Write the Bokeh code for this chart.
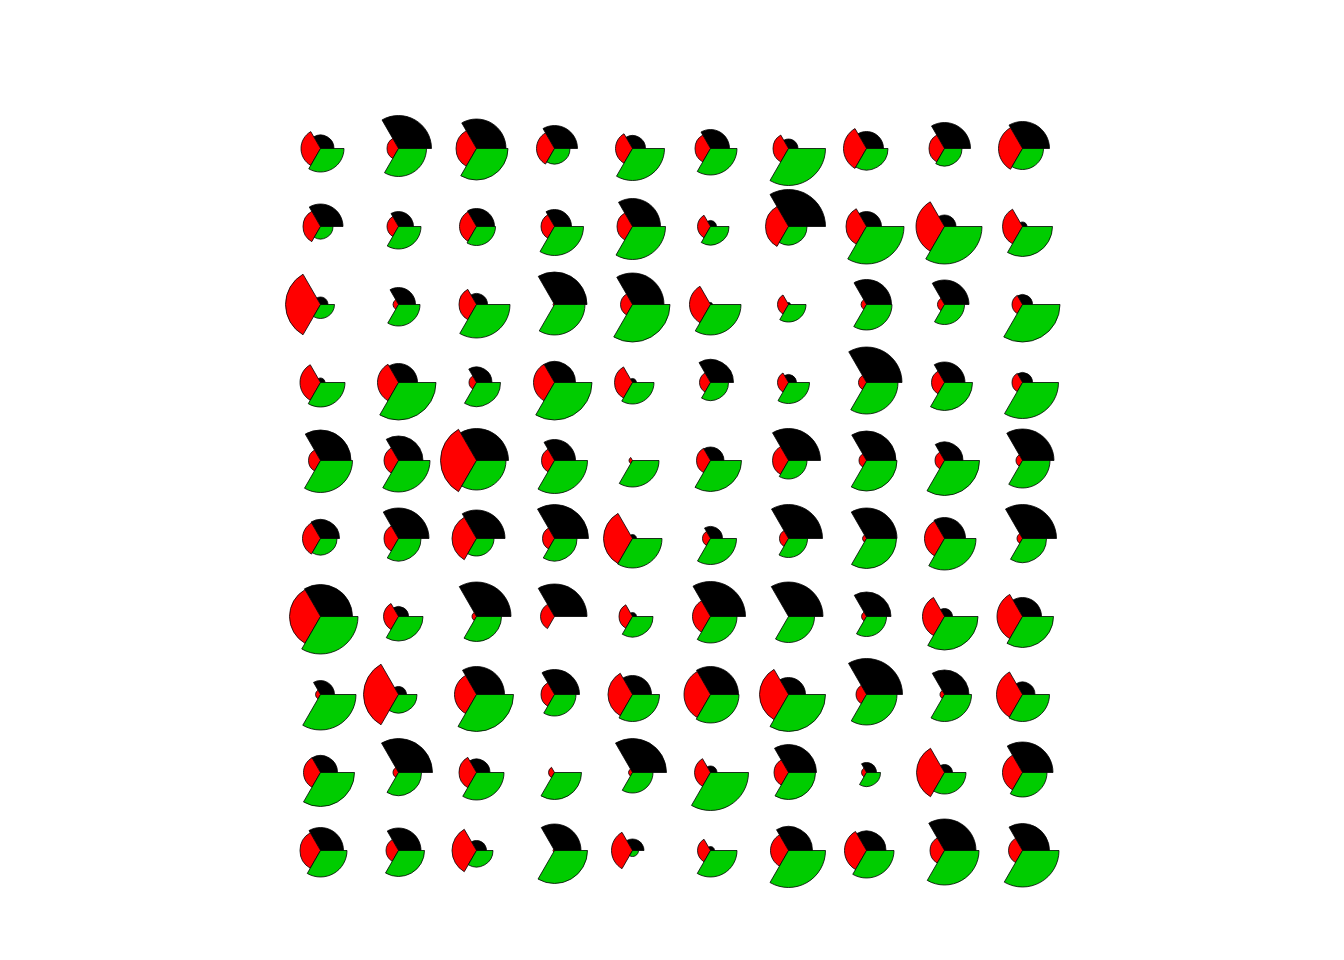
import math
from bokeh.plotting import figure
from bokeh.models import ColumnDataSource, Range1d
from bokeh.embed import file_html
from bokeh.resources import INLINE

# Grid: 10 columns x 10 rows (rows listed top to bottom)
n_cols = 10
n_rows = 10

# Wedge radii (pixels) per cell, rows from top to bottom
black_r = [
    [13.5, 33, 29.5, 23, 13, 19, 9.5, 17, 26, 27],
    [22.5, 15, 18, 17, 28, 6, 37, 15, 11.5, 4.5],
    [7.5, 17, 11, 32.5, 31.5, 2, 2, 25, 24.5, 10],
    [4.5, 19, 15.5, 21, 4, 23, 8, 35.5, 20.5, 10],
    [30.5, 24.5, 32, 21, 0, 13.5, 32, 29.5, 18.5, 31.5],
    [19, 30.5, 28.5, 34, 4, 12, 34, 30.5, 21, 34],
    [32, 10, 34.5, 32.5, 4, 35, 34.5, 24.5, 8, 19],
    [14, 8, 28, 25, 19, 28, 17, 36, 24.5, 12.5],
    [17, 34, 13.5, 0, 34, 6.5, 28, 10, 8, 30.5],
    [23, 22.5, 10, 26.5, 11.5, 4, 24, 19.5, 31.5, 27],
]
red_r = [
    [19.5, 11.5, 20.5, 18, 17, 15.5, 15.5, 23, 15.5, 24],
    [17.5, 11.5, 17, 13.5, 15.5, 13, 23, 20.5, 28.5, 20],
    [35, 5.5, 17.5, 1.5, 12, 21, 11, 5.5, 7, 10.5],
    [20.5, 21, 7.5, 21, 18, 11, 11, 8, 13, 10.5],
    [12, 14.5, 36, 13, 3.5, 14, 16, 7.5, 9.5, 6.5],
    [18, 14.5, 24.5, 12, 29, 8, 9, 4, 20, 5.5],
    [31, 15, 4.5, 14, 13.5, 18, 0, 5, 22, 25.5],
    [5, 35, 22, 13.5, 24.5, 26.5, 29, 10.5, 4.5, 26],
    [17, 5.5, 17.5, 6, 4, 16, 14.5, 5, 28, 20],
    [20.5, 12.5, 24.5, 1.5, 21, 13, 18, 22, 14.5, 14],
]
green_r = [
    [23.5, 28, 31.5, 15.5, 32, 26.5, 37, 21.5, 17.5, 21],
    [12.5, 22.5, 19, 29, 33, 18.5, 18.5, 37.5, 37.5, 30],
    [14, 21.5, 33.5, 30.5, 37.5, 30.5, 17.5, 25.5, 20, 37.5],
    [24.5, 37.5, 24, 37.5, 21.5, 18, 21, 31.5, 28, 36],
    [32, 31.5, 29.5, 33, 26.5, 31, 18.5, 30.5, 35, 27.5],
    [16.5, 22.5, 17.5, 22.5, 29.5, 26, 19, 30, 31.5, 24],
    [37.5, 24.5, 25, 0, 20.5, 26.5, 26, 20, 33.5, 31],
    [35.5, 18.5, 37, 21.5, 27, 28.5, 37, 30.5, 27, 27],
    [34, 23, 27.5, 27, 20.5, 38, 27, 14, 21.5, 24.5],
    [26.5, 26, 16.5, 33, 6, 26.5, 37, 27.5, 34.5, 36.5],
]

series = [
    ("black", black_r, "#000000", 0.0, 2 * math.pi / 3),
    ("red", red_r, "#ff0000", 2 * math.pi / 3, 4 * math.pi / 3),
    ("green", green_r, "#00cc00", 4 * math.pi / 3, 2 * math.pi),
]

W, H = 1344, 960
unit = 78.0       # pixels per grid step
x0_px, y0_px = 320.0, 148.0  # pixel position of the top-left grid cell

p = figure(width=W, height=H, output_backend="svg", toolbar_location=None,
           x_axis_location=None, y_axis_location=None, min_border=0,
           x_range=Range1d(-x0_px / unit, (W - x0_px) / unit),
           y_range=Range1d((n_rows - 1) - (H - y0_px) / unit, (n_rows - 1) + y0_px / unit))
p.grid.visible = False
p.outline_line_color = None
p.background_fill_color = "white"
p.border_fill_color = "white"

for name, radii, color, a0, a1 in series:
    xs, ys, rs = [], [], []
    for r in range(n_rows):
        for c in range(n_cols):
            val = radii[r][c]
            if val <= 0:
                continue
            xs.append(c)
            ys.append((n_rows - 1) - r)
            rs.append(val)
    src = ColumnDataSource(dict(x=xs, y=ys, r=rs))
    p.wedge(x="x", y="y", radius="r", radius_units="screen", source=src,
            start_angle=a0, end_angle=a1, fill_color=color,
            line_color="black", line_width=0.8)

open("out.html", "w").write(file_html(p, INLINE))
